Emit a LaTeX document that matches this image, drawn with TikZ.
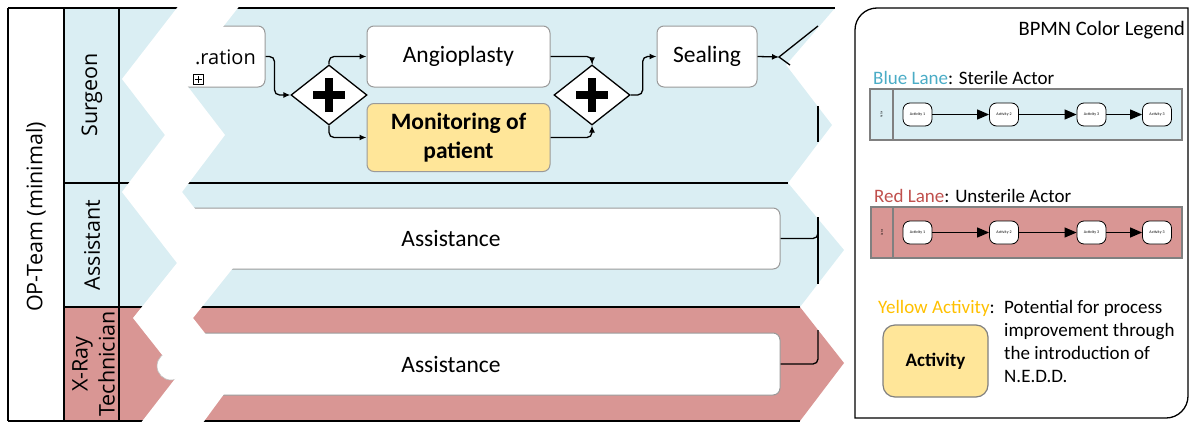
\documentclass[tikz,border=0pt]{standalone}
\usepackage{fontspec}
\setmainfont{Carlito}
\newfontfamily\lanefont{Open Sans}
\usetikzlibrary{arrows.meta,shapes.geometric}
\definecolor{laneblue}{HTML}{DAEEF3}
\definecolor{lanered}{HTML}{D99694}
\definecolor{actyellow}{HTML}{FFE699}
\definecolor{boxgray}{HTML}{9A9A9A}
\definecolor{legblue}{HTML}{4BACC6}
\definecolor{legred}{HTML}{C0504D}
\definecolor{legyellow}{HTML}{FFC000}
\begin{document}
\begin{tikzpicture}[x=1pt,y=-1pt,
  task/.style={draw=boxgray, line width=1pt, fill=white, rounded corners=7pt, inner sep=0pt},
  gateway/.style={diamond, draw, line width=1.3pt, fill=white, minimum width=76pt, minimum height=60pt, inner sep=0pt},
  cross/.style={line width=8pt},
  flow/.style={line width=1.3pt, rounded corners=5pt, -{Latex[length=7pt,width=6pt]}},
  plainline/.style={line width=1.3pt, rounded corners=5pt},
  border/.style={line width=1.6pt},
  tasktext/.style={font=\fontsize{23.5}{26}\selectfont, inner sep=0pt},
  lanetext/.style={font=\lanefont\fontsize{21.5}{27}\selectfont, rotate=90, inner sep=0pt, align=center},
  legtext/.style={font=\fontsize{19}{23}\selectfont, inner sep=0pt},
  miniact/.style={draw, line width=0.8pt, fill=white, rounded corners=7pt, minimum width=29pt, minimum height=23pt, inner sep=0pt, font=\fontsize{4}{4}\selectfont},
  miniflow/.style={line width=1.2pt, -{Triangle[length=12pt,width=10pt]}},
  minilane/.style={draw=gray, line width=1.3pt}
]
\useasboundingbox (0,0) rectangle (1194,423);

% lane backgrounds
\fill[laneblue] (64,8) -- (835,8) -- (786,65) -- (832,125) -- (788,183) -- (844,250) -- (800,307) -- (64,307) -- cycle;
\fill[lanered] (64,307) -- (800,307) -- (844,363) -- (800,421) -- (64,421) -- cycle;
\fill[white] (8,8) rectangle (64,421);

% surgeon lane
\node[task, minimum width=90pt, minimum height=61pt] (prep) at (220,56.5) {};
\node[draw, line width=0.7pt, minimum size=10pt, inner sep=0pt, fill=white] (prepmarker) at (198,79) {};
\draw[line width=0.9pt] ([xshift=-3.5pt]prepmarker.center) -- ([xshift=3.5pt]prepmarker.center);
\draw[line width=0.9pt] ([yshift=-3.5pt]prepmarker.center) -- ([yshift=3.5pt]prepmarker.center);

\node[gateway] (gw1) at (329,95) {};
\draw[cross] ([xshift=-16pt]gw1.center) -- ([xshift=16pt]gw1.center);
\draw[cross] ([yshift=-17pt]gw1.center) -- ([yshift=17pt]gw1.center);

\node[task, minimum width=183pt, minimum height=61pt, tasktext] (angio) at (458.5,56.5) {Angioplasty};
\node[task, fill=actyellow, minimum width=183pt, minimum height=68pt, tasktext, align=center, font=\bfseries\fontsize{23.5}{29}\selectfont] (monitor) at (458.5,137.5) {Monitoring of\\patient};

\node[gateway] (gw2) at (592,95) {};
\draw[cross] ([xshift=-16pt]gw2.center) -- ([xshift=16pt]gw2.center);
\draw[cross] ([yshift=-17pt]gw2.center) -- ([yshift=17pt]gw2.center);

\node[task, minimum width=100pt, minimum height=61pt, tasktext] (seal) at (707,56.5) {Sealing};

\coordinate (endgw) at (779,57);
\coordinate (endtop) at (818,26);
\coordinate (endbot) at (790,65);
\coordinate (stubA) at (818,106);
\coordinate (stubB) at (818,142);

\draw[flow] (prep.east) -- ++(9,0) |- (gw1.west);
\draw[flow] (gw1.north) |- (angio.west);
\draw[flow] (gw1.south) |- (monitor.west);
\draw[flow] (angio.east) -| (gw2.north);
\draw[flow] (monitor.east) -| (gw2.south);
\draw[flow] (gw2.east) -- ++(12,0) |- (seal.west);
\draw[flow] (seal.east) -- (endgw);
\draw[plainline, rounded corners=0pt] (endtop) -- (endgw) -- (endbot);
\draw[plainline] (stubA) -- (stubB);

% assistant lane
\node[task, minimum width=595pt, minimum height=61pt] (assist1) at (482.5,238.5) {};
\node[tasktext] (assist1lbl) at (451,238.5) {Assistance};
\coordinate (assist1top) at (818,217);
\coordinate (assist1bot) at (818,284);
\draw[plainline] (assist1.east) -| (assist1top);
\draw[plainline] (assist1top) -- (assist1bot);

% x-ray lane
\node[task, minimum width=595pt, minimum height=62pt] (assist2) at (482.5,364) {};
\node[tasktext] (assist2lbl) at (451,364) {Assistance};
\coordinate (assist2top) at (818,330);
\draw[plainline] (assist2.east) -| (assist2top);

% pool and lane borders
\draw[border] (8,8) -- (835,8);
\draw[border] (8,421) -- (800,421);
\draw[border] (64,183) -- (788,183);
\draw[border] (64,307) -- (800,307);
\draw[border] (8,8) -- (8,421);
\draw[border] (64,8) -- (64,421);
\draw[border] (119,8) -- (119,421);

% torn gap across the lanes
\draw[fill=white, draw=gray!50, line width=0.6pt] (171,366) circle[radius=14];
\fill[white] (180,4) -- (122,79) -- (165,135) -- (122,192) -- (177,263) -- (133,318) -- (178,375) -- (140,424)
  -- (202,424) -- (238,375) -- (193,318) -- (237,263) -- (182,192) -- (225,135) -- (182,79) -- (241,4) -- cycle;
\node[anchor=base east, font=\lanefont\fontsize{20}{24}\selectfont, inner sep=0pt] (preplbl) at (256,64) {.ration};

% lane labels
\node[lanetext] (pooltitle) at (36,217) {OP-Team (minimal)};
\node[lanetext] (surgeonlbl) at (92,95) {Surgeon};
\node[lanetext] (assistantlbl) at (92,245) {Assistant};
\node[lanetext, font=\lanefont\fontsize{21.5}{27}\selectfont] (xraylbl) at (93.5,364) {X-Ray\\Technician};

% legend
\draw[line width=1.3pt] (855,418) [rounded corners=22pt] -- (855,8) [sharp corners] -- (1188,8) [rounded corners=22pt] -- (1188,418) [sharp corners] -- cycle;
\node[legtext, anchor=base east, font=\fontsize{20.5}{24}\selectfont] (legtitle) at (1185,35) {BPMN Color Legend};

\node[legtext, anchor=base west] (bluelbl) at (873,84) {\textcolor{legblue}{Blue Lane}: Sterile Actor};
\draw[minilane, fill=laneblue] (870,89) rectangle (1182,140);
\draw[minilane] (893,89) -- (893,140);
\node[rotate=90, font=\fontsize{3}{3}\selectfont, inner sep=0pt] (bactor) at (881.5,114.5) {Actor};
\node[miniact] (b1) at (917.5,114.5) {Activity 1};
\node[miniact] (b2) at (1004,114.5) {Activity 2};
\node[miniact] (b3) at (1091.5,114.5) {Activity 3};
\node[miniact] (b4) at (1157,114.5) {Activity 3};
\draw[miniflow] (b1) -- (b2);
\draw[miniflow] (b2) -- (b3);
\draw[miniflow] (b3) -- (b4);

\node[legtext, anchor=base west] (redlbl) at (874,202) {\textcolor{legred}{Red Lane}: Unsterile Actor};
\draw[minilane, fill=lanered] (871,207) rectangle (1182,258);
\draw[minilane] (893,207) -- (893,258);
\node[rotate=90, font=\fontsize{3}{3}\selectfont, inner sep=0pt] (ractor) at (882,232.5) {Actor};
\node[miniact] (r1) at (917.5,232.5) {Activity 1};
\node[miniact] (r2) at (1004,232.5) {Activity 2};
\node[miniact] (r3) at (1091.5,232.5) {Activity 3};
\node[miniact] (r4) at (1157,232.5) {Activity 3};
\draw[miniflow] (r1) -- (r2);
\draw[miniflow] (r2) -- (r3);
\draw[miniflow] (r3) -- (r4);

\node[legtext, anchor=base west] (yellowlbl) at (878,313) {\textcolor{legyellow}{Yellow Activity}:};
\node[legtext, anchor=base west] (descA) at (1004,313) {Potential for process};
\node[legtext, anchor=base west] (descB) at (1004,336) {improvement through};
\node[legtext, anchor=base west] (descC) at (1004,359) {the introduction of};
\node[legtext, anchor=base west] (descD) at (1004,382) {N.E.D.D.};
\node[draw=gray, line width=1.2pt, fill=actyellow, rounded corners=12pt, minimum width=105pt, minimum height=72pt, inner sep=0pt, font=\bfseries\fontsize{19}{23}\selectfont] (legact) at (935.5,361) {Activity};
\end{tikzpicture}
\end{document}
